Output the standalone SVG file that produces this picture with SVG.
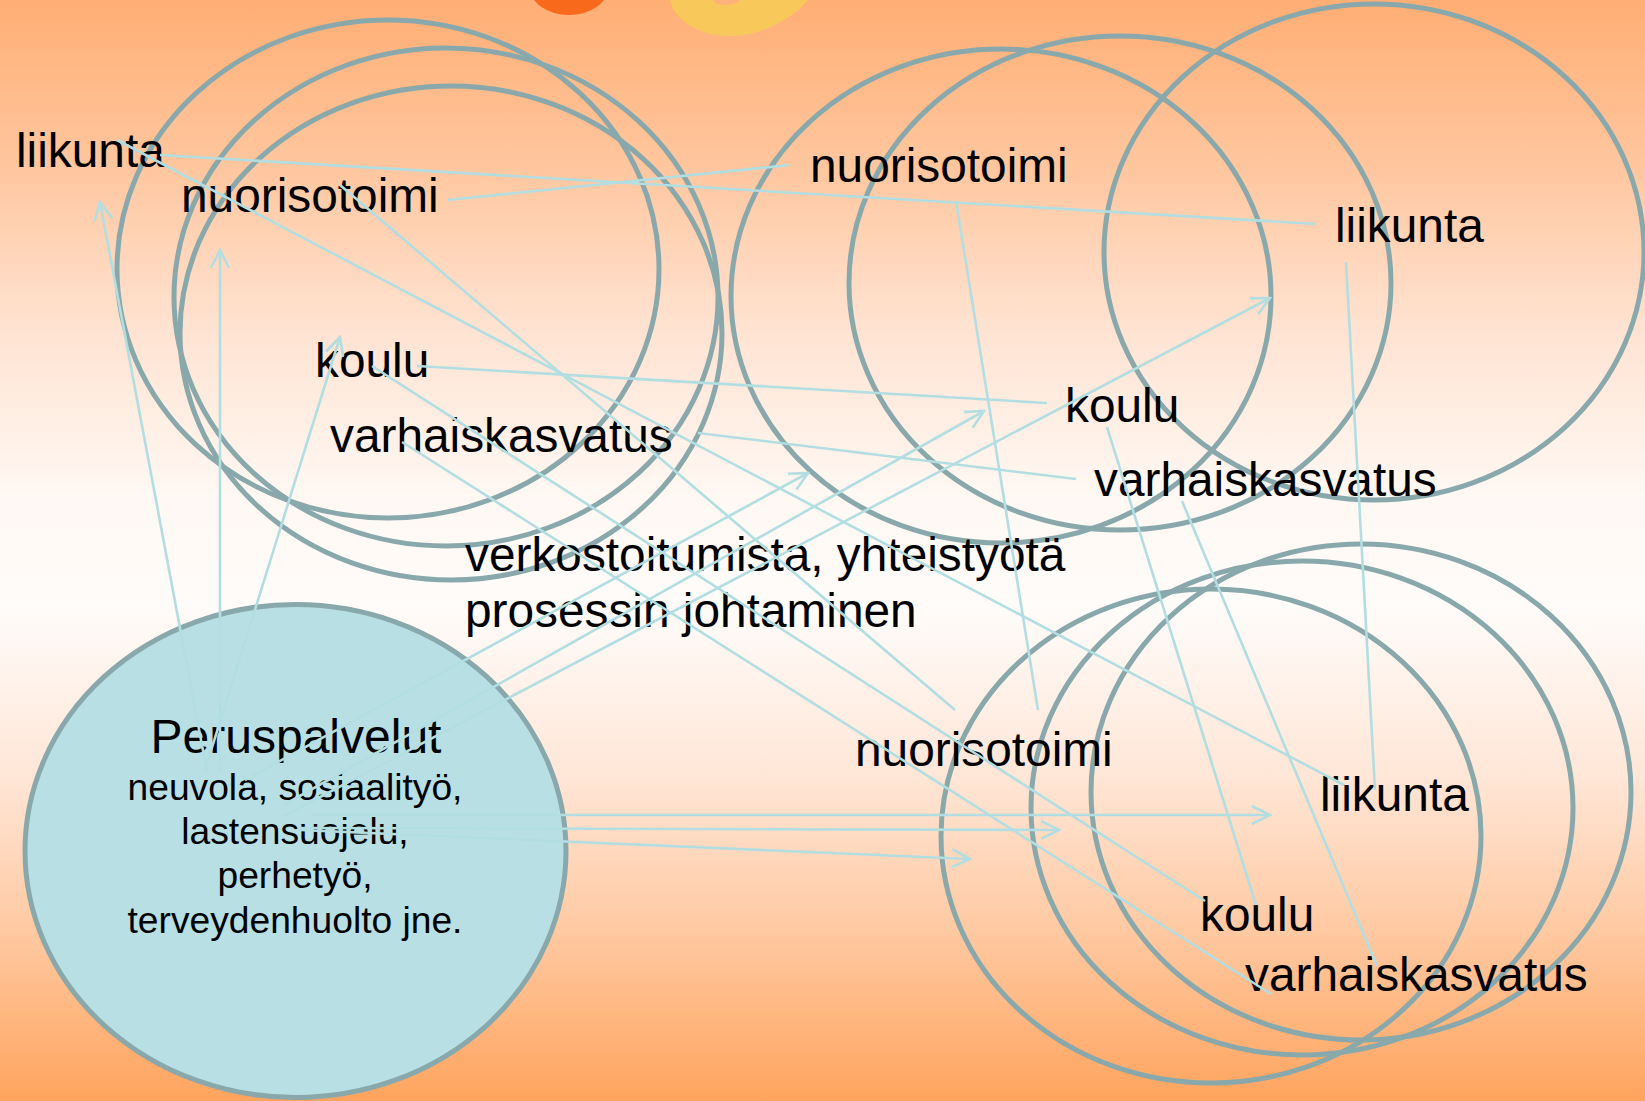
<svg xmlns="http://www.w3.org/2000/svg" width="1645" height="1101" viewBox="0 0 1645 1101">
<defs>
<linearGradient id="bg" x1="0" y1="0" x2="0" y2="1">
<stop offset="0" stop-color="#FFAE74"/>
<stop offset="0.15" stop-color="#FFC69E"/>
<stop offset="0.3" stop-color="#FFE3D2"/>
<stop offset="0.45" stop-color="#FFF8F3"/>
<stop offset="0.55" stop-color="#FFFCFA"/>
<stop offset="0.7" stop-color="#FFE7D8"/>
<stop offset="0.85" stop-color="#FFC8A0"/>
<stop offset="1" stop-color="#FFA45E"/>
</linearGradient>
<marker id="ah" markerUnits="userSpaceOnUse" viewBox="0 0 22 20" markerWidth="22" markerHeight="20" refX="20" refY="10" orient="auto">
<path d="M2,1 L20,10 L2,19" fill="none" stroke="#B2DEE2" stroke-width="2.6"/>
</marker>
<style>
.ring{fill:none;stroke:#89A8AB;stroke-width:5}
.lbl{font-family:"Liberation Sans",Arial,sans-serif;font-size:47.8px;fill:#000}
.sub{font-family:"Liberation Sans",Arial,sans-serif;font-size:37.2px;fill:#000;text-anchor:middle}
.cn{fill:none;stroke:#B2DEE2;stroke-width:2.6}
.ar{fill:none;stroke:#B2DEE2;stroke-width:2.6;marker-end:url(#ah)}
</style>
</defs>
<rect x="0" y="0" width="1645" height="1101" fill="url(#bg)"/>
<g id="logo">
<ellipse cx="569" cy="-12" rx="39" ry="27" fill="#F8691B"/>
<path d="M670,0 C675,22 702,37 733,36 C766,35 796,15 808,0 Z" fill="#F8C95A"/>
<ellipse cx="726" cy="0" rx="13" ry="5" fill="#FFB17A"/>
</g>
<g id="group-top-left">
<ellipse class="ring" cx="388" cy="269" rx="271" ry="249"/>
<ellipse class="ring" cx="446" cy="297" rx="272" ry="249"/>
<ellipse class="ring" cx="451" cy="333" rx="271" ry="247"/>
<text class="lbl" x="16" y="167">liikunta</text>
<text class="lbl" x="181" y="212">nuorisotoimi</text>
<text class="lbl" x="315" y="377">koulu</text>
<text class="lbl" x="330" y="452">varhaiskasvatus</text>
</g>
<g id="group-top-right">
<ellipse class="ring" cx="1001" cy="296" rx="270" ry="247"/>
<ellipse class="ring" cx="1120" cy="283" rx="271" ry="247"/>
<ellipse class="ring" cx="1374" cy="252" rx="270" ry="248"/>
<text class="lbl" x="810" y="182">nuorisotoimi</text>
<text class="lbl" x="1335" y="242">liikunta</text>
<text class="lbl" x="1065" y="422">koulu</text>
<text class="lbl" x="1094" y="496">varhaiskasvatus</text>
</g>
<g id="group-bottom-right">
<ellipse class="ring" cx="1211" cy="836" rx="270" ry="247"/>
<ellipse class="ring" cx="1302" cy="808" rx="271" ry="247"/>
<ellipse class="ring" cx="1361" cy="792" rx="270" ry="248"/>
<text class="lbl" x="855" y="766">nuorisotoimi</text>
<text class="lbl" x="1320" y="811">liikunta</text>
<text class="lbl" x="1200" y="931">koulu</text>
<text class="lbl" x="1245" y="991">varhaiskasvatus</text>
</g>
<g id="networking-label">
<text class="lbl" x="465" y="571">verkostoitumista, yhteistyötä</text>
<text class="lbl" x="465" y="627">prosessin johtaminen</text>
</g>
<g id="peruspalvelut">
<ellipse cx="295.5" cy="851" rx="270.5" ry="246.5" fill="#B8E0E4" stroke="#89A8AB" stroke-width="5"/>
<text class="sub" x="296" y="753" style="font-size:48px">Peruspalvelut</text>
<text class="sub" x="295" y="800">neuvola, sosiaalityö,</text>
<text class="sub" x="295" y="844">lastensuojelu,</text>
<text class="sub" x="295" y="888">perhetyö,</text>
<text class="sub" x="295" y="933">terveydenhuolto jne.</text>
</g>
<g id="connectors">
<line class="cn" x1="160" y1="155" x2="1316" y2="224"/>
<line class="cn" x1="447" y1="200" x2="790" y2="165"/>
<line class="cn" x1="117" y1="140" x2="1344" y2="785"/>
<line class="cn" x1="340" y1="185" x2="955" y2="710"/>
<line class="cn" x1="417" y1="366" x2="1047" y2="403"/>
<line class="cn" x1="372" y1="366" x2="1205" y2="901"/>
<line class="cn" x1="698" y1="433" x2="1076" y2="479"/>
<line class="cn" x1="402" y1="442" x2="1271" y2="994"/>
<line class="cn" x1="956" y1="201" x2="1038" y2="710"/>
<line class="cn" x1="1107" y1="427" x2="1256" y2="905"/>
<line class="cn" x1="1182" y1="501" x2="1377" y2="966"/>
<line class="cn" x1="1346" y1="262" x2="1375" y2="790"/>
<line class="ar" x1="207" y1="772" x2="100" y2="202"/>
<line class="ar" x1="220" y1="772" x2="220" y2="250"/>
<line class="ar" x1="205" y1="770" x2="340" y2="337"/>
<line class="ar" x1="245" y1="780" x2="808" y2="473"/>
<line class="ar" x1="282" y1="806" x2="984" y2="411"/>
<line class="ar" x1="282" y1="817" x2="1270" y2="298"/>
<line class="ar" x1="312" y1="815" x2="1270" y2="815"/>
<line class="ar" x1="300" y1="828" x2="1059" y2="830"/>
<line class="ar" x1="300" y1="830" x2="970" y2="859"/>
</g>
</svg>
